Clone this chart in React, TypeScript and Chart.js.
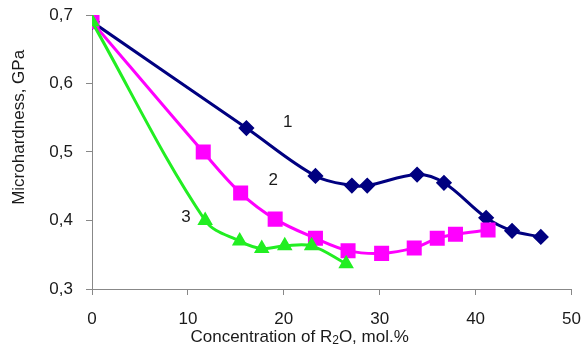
import React, { useEffect, useRef } from "react";
import { Chart, registerables } from "chart.js";

Chart.register(...registerables);

const series1X = [0, 16.1, 23.3, 27.1, 28.7, 33.9, 36.7, 41.1, 43.8, 46.8];
const series1Y = [0.69, 0.535, 0.465, 0.451, 0.451, 0.467, 0.455, 0.404, 0.385, 0.376];
const series2X = [0, 11.6, 15.5, 19.1, 23.3, 26.7, 30.2, 33.6, 36.0, 37.9, 41.3];
const series2Y = [0.69, 0.5, 0.44, 0.402, 0.374, 0.356, 0.352, 0.36, 0.374, 0.38, 0.386];
const series3X = [0, 11.8, 15.4, 17.7, 20.1, 22.9, 26.5];
const series3Y = [0.69, 0.4, 0.37, 0.359, 0.363, 0.363, 0.337];

const curveLabels = ["1", "2", "3"];
const curveLabelX = [20.4, 18.9, 9.8];
const curveLabelY = [0.544, 0.458, 0.404];

const xTitleParts = ["Concentration of R", "2", "O, mol.%"];
const yTitle = "Microhardness, GPa";

const FONT = "'Liberation Sans', Arial, sans-serif";

const toPoints = (xs: number[], ys: number[]) => xs.map((x, i) => ({ x, y: ys[i] }));

const annotationPlugin = {
  id: "annotations",
  afterDraw(chart: any) {
    const { ctx, chartArea, scales } = chart;
    ctx.save();
    ctx.fillStyle = "#1a1a1a";
    ctx.font = `17px ${FONT}`;
    ctx.textAlign = "center";
    ctx.textBaseline = "middle";
    curveLabels.forEach((t, i) => {
      ctx.fillText(t, scales.x.getPixelForValue(curveLabelX[i]), scales.y.getPixelForValue(curveLabelY[i]));
    });
    const w0 = ctx.measureText(xTitleParts[0]).width;
    ctx.font = `12px ${FONT}`;
    const w1 = ctx.measureText(xTitleParts[1]).width;
    ctx.font = `17px ${FONT}`;
    const w2 = ctx.measureText(xTitleParts[2]).width;
    const total = w0 + w1 + w2;
    const cx = chartArea.left + (chartArea.right - chartArea.left) * 0.433;
    const cy = 337;
    let x = cx - total / 2;
    ctx.textAlign = "left";
    ctx.fillText(xTitleParts[0], x, cy);
    x += w0;
    ctx.font = `12px ${FONT}`;
    ctx.fillText(xTitleParts[1], x, cy + 4);
    x += w1;
    ctx.font = `17px ${FONT}`;
    ctx.fillText(xTitleParts[2], x, cy);
    ctx.save();
    ctx.translate(19, chartArea.top + (chartArea.bottom - chartArea.top) * 0.41);
    ctx.rotate(-Math.PI / 2);
    ctx.textAlign = "center";
    ctx.fillText(yTitle, 0, 0);
    ctx.restore();
    ctx.restore();
  },
};

export default function App() {
  const ref = useRef<HTMLCanvasElement>(null);
  useEffect(() => {
    if (!ref.current) return;
    const chart = new Chart(ref.current, {
      type: "line",
      data: {
        datasets: [
          {
            data: toPoints(series3X, series3Y),
            borderColor: "#22ee22",
            backgroundColor: "#22ee22",
            borderWidth: 3,
            pointStyle: "triangle",
            pointRadius: 6,
            tension: 0.35,
          },
          {
            data: toPoints(series2X, series2Y),
            borderColor: "#ff00ff",
            backgroundColor: "#ff00ff",
            borderWidth: 3,
            pointStyle: "rect",
            pointRadius: 8.5,
            tension: 0.35,
          },
          {
            data: toPoints(series1X, series1Y),
            borderColor: "#000080",
            backgroundColor: "#000080",
            borderWidth: 3,
            pointStyle: "rectRot",
            pointRadius: 6,
            tension: 0.35,
          },
        ],
      },
      options: {
        animation: false,
        responsive: false,
        layout: { padding: { left: 0, right: 11, top: 15, bottom: 0 } },
        plugins: { legend: { display: false }, tooltip: { enabled: false } },
        scales: {
          x: {
            type: "linear",
            min: 0,
            max: 50,
            border: { color: "#888888", width: 1 },
            grid: { drawOnChartArea: false, drawTicks: true, tickLength: 6, color: "#888888" },
            ticks: {
              stepSize: 10,
              padding: 14,
              color: "#1a1a1a",
              font: { family: FONT, size: 17 },
              maxRotation: 0,
            },
            afterFit: (s: any) => {
              s.height = 59;
              s.paddingLeft = 0;
              s.paddingRight = 0;
            },
          },
          y: {
            min: 0.3,
            max: 0.7,
            border: { color: "#888888", width: 1 },
            grid: { drawOnChartArea: false, drawTicks: true, tickLength: 6, color: "#888888" },
            ticks: {
              stepSize: 0.1,
              padding: 13,
              color: "#1a1a1a",
              font: { family: FONT, size: 17 },
              callback: (v: any) => Number(v).toFixed(1).replace(".", ","),
            },
            afterFit: (s: any) => {
              s.width = 92;
              s.paddingTop = 0;
              s.paddingBottom = 0;
            },
          },
        },
      },
      plugins: [annotationPlugin],
    });
    return () => chart.destroy();
  }, []);
  return (
    <div style={{ position: "fixed", left: 0, top: 0, width: 583, height: 348, background: "#fff" }}>
      <canvas ref={ref} width={583} height={348} style={{ width: 583, height: 348 }} />
    </div>
  );
}
